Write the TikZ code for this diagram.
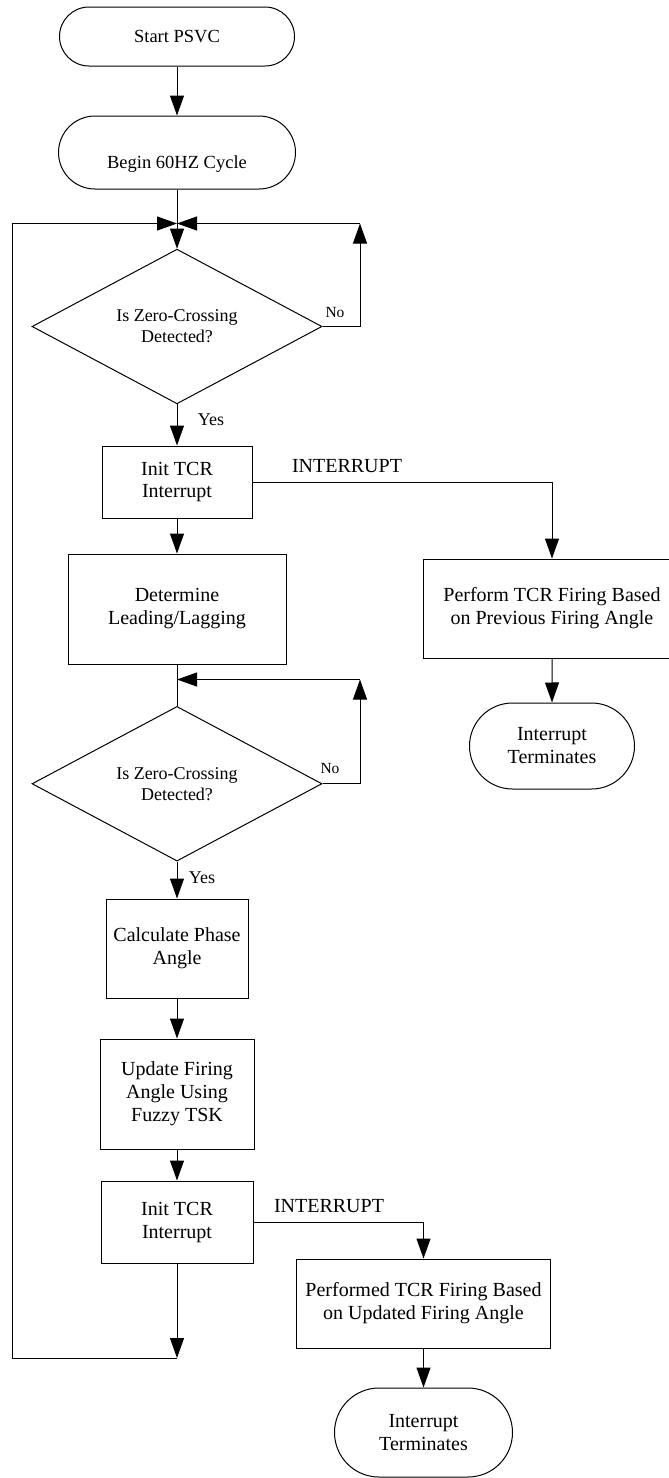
\documentclass[tikz,border=0pt]{standalone}
\usepackage{fontspec}
\setmainfont{Liberation Serif}
\usetikzlibrary{arrows.meta,shapes.geometric,shapes.misc}
\begin{document}
\begin{tikzpicture}[x=1pt,y=-1pt,
  line width=1pt,
  every node/.style={font=\fontsize{20}{23}\selectfont, align=center},
  terminal/.style={draw, rounded rectangle, inner sep=0pt},
  process/.style={draw, rectangle, inner sep=0pt},
  decision/.style={draw, diamond, inner sep=0pt,
    font=\fontsize{18}{21}\selectfont,
    minimum width=290pt, minimum height=150pt},
  flow/.style={-{Triangle[length=20pt,width=14pt]}},
  lbl/.style={inner sep=0pt},
  small/.style={lbl, font=\fontsize{15.5}{18}\selectfont},
  yes/.style={lbl, font=\fontsize{18}{21}\selectfont},
]
\clip (0,0) rectangle (669,1478);

% main column
\node[terminal, minimum width=235pt, minimum height=59pt,
      font=\fontsize{18.5}{21}\selectfont] (start) at (177,36.5) {Start PSVC};
\node[terminal, minimum width=237pt, minimum height=73pt,
      label={[yshift=-12pt, font=\fontsize{18.5}{21}\selectfont]center:Begin 60HZ Cycle}]
      (begin) at (177,152.5) {};
\coordinate (j1) at (177,223.5);
\node[decision] (d1) at (177,326.5) {Is Zero-Crossing\\Detected?};
\node[process, minimum width=150pt, minimum height=72pt] (init1) at (177,482) {Init TCR\\Interrupt};
\node[process, minimum width=218pt, minimum height=110pt] (lead) at (177,609) {Determine\\Leading/Lagging};
\coordinate (j2) at (177,679.5);
\node[decision] (d2) at (177,783.75) {Is Zero-Crossing\\Detected?};
\node[process, minimum width=142pt, minimum height=99pt] (phase) at (177,948.5) {Calculate Phase\\Angle};
\node[process, minimum width=154pt, minimum height=110pt] (update) at (177,1094) {Update Firing\\Angle Using\\Fuzzy TSK};
\node[process, minimum width=152pt, minimum height=82pt] (init2) at (177,1222) {Init TCR\\Interrupt};
\coordinate (j3) at (177,1358);

% interrupt branches
\node[process, minimum width=258pt, minimum height=99pt] (fire1) at (552,608.5) {Perform TCR Firing Based\\on Previous Firing Angle};
\node[terminal, minimum width=165pt, minimum height=86pt] (end1) at (552,746) {Interrupt\\Terminates};
\node[process, minimum width=254pt, minimum height=89pt] (fire2) at (423.5,1303.5) {Performed TCR Firing Based\\on Updated Firing Angle};
\node[terminal, minimum width=178pt, minimum height=89pt] (end2) at (423.5,1432.5) {Interrupt\\Terminates};

% loop corners
\coordinate (r1) at (360,223.5);
\coordinate (r2) at (360,679.5);
\coordinate (lb) at (12,1358);
\coordinate (lt) at (12,223.5);

% labels
\node[small] (no1) at (335,312) {No};
\node[yes] (yes1) at (211,420) {Yes};
\node[lbl] (int1) at (347,466) {INTERRUPT};
\node[small] (no2) at (330,768) {No};
\node[yes] (yes2) at (202,878) {Yes};
\node[lbl] (int2) at (329,1206) {INTERRUPT};

% connectors
\draw[flow] (start) -- (begin);
\draw[flow] (begin) -- (d1);
\draw[flow] (d1.east) -| (r1);
\draw[flow] (r1) -- (j1);
\draw[flow] (d1) -- (init1);
\draw[flow] (init1) -- (lead);
\draw[flow] (init1.east) -| (fire1.north);
\draw[flow] (fire1) -- (end1);
\draw (lead) -- (d2);
\draw[flow] (d2.east) -| (r2);
\draw[flow] (r2) -- (j2);
\draw[flow] (d2) -- (phase);
\draw[flow] (phase) -- (update);
\draw[flow] (update) -- (init2);
\draw[flow] (init2.east) -| (fire2.north);
\draw[flow] (fire2) -- (end2);
\draw[flow] (init2) -- (j3);
\draw[flow] (j3) -- (lb) -- (lt) -- (j1);
\end{tikzpicture}
\end{document}
